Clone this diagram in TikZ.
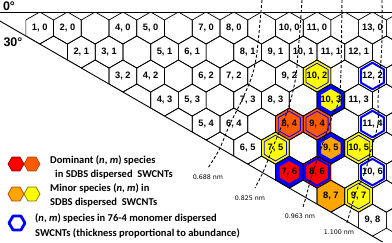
\documentclass[tikz,border=0pt]{standalone}
\usepackage{fontspec}
\setmainfont{Liberation Sans}
\newfontfamily\legfont{Carlito}
\newfontfamily\smallfont{DejaVu Sans}
\definecolor{cyel}{RGB}{255,255,0}
\definecolor{cora}{RGB}{255,165,0}
\definecolor{cred}{RGB}{255,0,0}
\definecolor{cdor}{RGB}{255,90,0}
\definecolor{cblue}{RGB}{0,0,255}
\definecolor{cdred}{RGB}{150,0,0}
\definecolor{cdora}{RGB}{170,70,0}
\definecolor{cdyel}{RGB}{120,110,0}
\def\hexpath{(0,-16.01) -- (13.865,-8.005) -- (13.865,8.005) -- (0,16.01) -- (-13.865,8.005) -- (-13.865,-8.005) -- cycle}
\def\flathex{(-8,0) -- (-4,-6.93) -- (4,-6.93) -- (8,0) -- (4,6.93) -- (-4,6.93) -- cycle}
\tikzset{
  gridline/.style={draw=black,line width=0.7pt},
  lab/.style={font=\fontsize{9.3}{10}\selectfont\bfseries,inner sep=0pt},
  dashline/.style={dash pattern=on 3pt off 2pt,line width=0.9pt},
  dlab/.style={font=\smallfont\fontsize{6.3}{7}\selectfont,inner sep=0pt},
  leg/.style={font=\legfont\bfseries\fontsize{10.5}{12}\selectfont,anchor=west,inner sep=0pt},
  deg/.style={font=\fontsize{12.5}{13}\selectfont\bfseries,inner sep=0pt},
}
\newcommand\colhex[5]{%
  \pgfmathsetmacro\cx{12+27.73*(#1+#2/2)}%
  \pgfmathsetmacro\cy{28+24.02*#2}%
  \fill[#3,shift={(\cx,\cy)}] \hexpath;
  \ifdim#4pt>0pt
  \draw[cblue,line width=#4pt,shift={(\cx,\cy)},scale=#5] \hexpath;
  \fi
}
\begin{document}
\begin{tikzpicture}[x=1pt,y=-1pt,line join=round]
\useasboundingbox (0,0) rectangle (392,242);
% coloured cells
\colhex{10}{2}{cyel}{0.8}{0.8}
\colhex{10}{3}{cyel}{4}{0.84}
\colhex{12}{2}{white}{2}{0.83}
\colhex{11}{4}{white}{2}{0.83}
\colhex{10}{6}{white}{2}{0.83}
\colhex{8}{4}{cdor}{0.8}{0.8}
\colhex{9}{4}{cdor}{0.8}{0.8}
\colhex{7}{5}{cyel}{0.8}{0.8}
\colhex{9}{5}{cora}{4}{0.84}
\colhex{10}{5}{cyel}{0.8}{0.8}
\colhex{7}{6}{cred}{4}{0.84}
\colhex{8}{6}{cred}{2}{0.85}
\colhex{8}{7}{cora}{0}{1}
\colhex{9}{7}{cyel}{0.8}{0.8}
% grid
\begin{scope}
\clip (0,12) -- (392,12) -- (392,242) -- (382.66,242) -- (0,21.07) -- cycle;
\foreach \m in {0,...,8}{
  \pgfmathtruncatemacro\nstart{max(\m,1)}
  \foreach \n in {\nstart,...,14}{
    \pgfmathsetmacro\cx{12+27.73*(\n+\m/2)}
    \pgfmathsetmacro\cy{28+24.02*\m}
    \draw[gridline,shift={(\cx,\cy)}] \hexpath;
  }
}
\end{scope}
% labels
\foreach \n/\m in {1/0,2/0,4/0,5/0,7/0,8/0,10/0,11/0,13/0,
  2/1,3/1,5/1,6/1,8/1,9/1,10/1,11/1,12/1,
  3/2,4/2,6/2,7/2,9/2,10/2,12/2,
  4/3,5/3,7/3,8/3,10/3,11/3,
  5/4,6/4,8/4,9/4,11/4,
  6/5,7/5,9/5,10/5,
  7/6,8/6,10/6,
  8/7,9/7,
  9/8}{
  \pgfmathsetmacro\cx{12+27.73*(\n+\m/2)}
  \pgfmathsetmacro\cy{28+24.02*\m}
  \node[lab] (l\n-\m) at (\cx,\cy) {\n, \m};
}
% border lines
\draw[line width=0.9pt] (0,12) -- (392,12);
\draw[line width=0.9pt] (0,21.07) -- (382.66,242);
\node[deg] (deg0) at (9,6) {0°};
\node[deg] (deg30) at (13,42) {30°};
% diameter lines
\draw[dashline] plot[smooth] coordinates {(262,0) (257,52) (252,76) (242,100) (230,124) (219,150) (208,168)};
\draw[dashline] plot[smooth] coordinates {(302,0) (300,30) (298,52) (296,76) (290,103) (282,125) (273,147) (264,170) (255,188)};
\draw[dashline] plot[smooth] coordinates {(342,0) (341,70) (339,101) (332,117) (313,172) (306,197) (303,207)};
\draw[dashline] plot[smooth] coordinates {(382,0) (382,40) (380,75) (378,100) (378,124) (371,150) (365,172) (356,192) (347,223)};
\node[dlab] (d1) at (208,177) {0.688 nm};
\node[dlab] (d2) at (250,198) {0.825 nm};
\node[dlab] (d3) at (300,216) {0.963 nm};
\node[dlab] (d4) at (339,232) {1.100 nm};
% legend
\fill[cred,draw=cdred,line width=0.7pt,shift={(16,164)}] \flathex;
\fill[cdor,draw=cdora,line width=0.7pt,shift={(32,164)}] \flathex;
\fill[cora,draw=cdora,line width=0.7pt,shift={(16,194)}] \flathex;
\fill[cyel,draw=cdyel,line width=0.7pt,shift={(32,194)}] \flathex;
\draw[cblue,line width=2.8pt,shift={(17,223)}] \flathex;
\node[leg] (t1) at (50,160) {Dominant (\textit{n}, \textit{m}) species};
\node[leg] (t2) at (55,175) {in SDBS dispersed\ \ SWCNTs};
\node[leg] (t3) at (50,188.5) {Minor species (\textit{n}, \textit{m}) in};
\node[leg] (t4) at (50,203) {SDBS dispersed\ \ SWCNTs};
\node[leg] (t5) at (35,218) {(\textit{n}, \textit{m}) species in 76-4 monomer dispersed};
\node[leg] (t6) at (35,233) {SWCNTs (thickness proportional to abundance)};
\end{tikzpicture}
\end{document}
